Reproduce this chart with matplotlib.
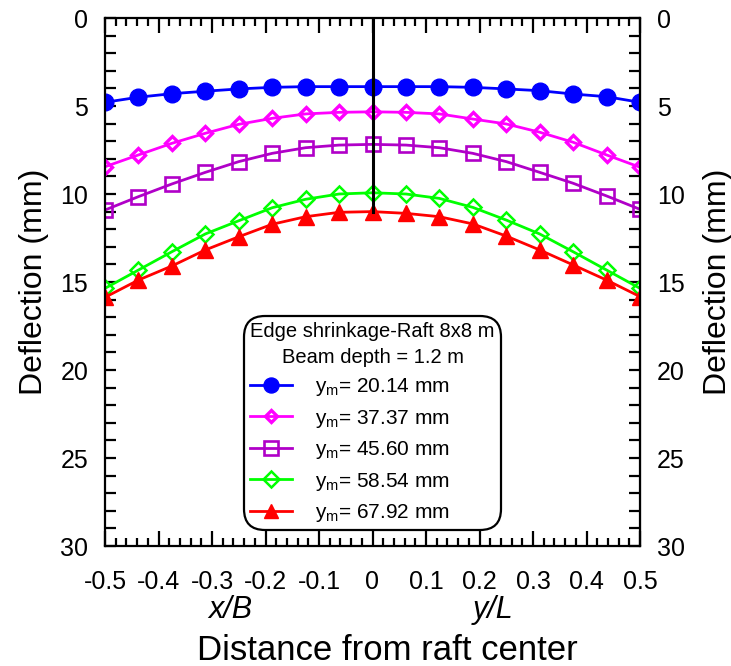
import matplotlib
matplotlib.use("Agg")
import matplotlib.pyplot as plt
from matplotlib.ticker import MultipleLocator

plt.rcParams['font.family'] = ['Liberation Sans', 'DejaVu Sans']
plt.rcParams['mathtext.fontset'] = 'custom'
plt.rcParams['mathtext.rm'] = 'Liberation Sans'
plt.rcParams['mathtext.it'] = 'Liberation Sans:italic'

x_pos = [-0.5, -0.4375, -0.375, -0.3125, -0.25, -0.1875, -0.125, -0.0625, 0.0,
         0.0625, 0.125, 0.1875, 0.25, 0.3125, 0.375, 0.4375, 0.5]

defl_2014 = [4.79, 4.50, 4.30, 4.16, 4.03, 3.94, 3.90, 3.90, 3.90,
             3.90, 3.90, 3.94, 4.03, 4.13, 4.32, 4.47, 4.79]
defl_3737 = [8.45, 7.78, 7.12, 6.55, 6.04, 5.70, 5.45, 5.36, 5.33,
             5.36, 5.45, 5.74, 6.02, 6.49, 7.06, 7.78, 8.48]
defl_4560 = [10.91, 10.15, 9.43, 8.77, 8.16, 7.69, 7.37, 7.22, 7.18,
             7.22, 7.37, 7.69, 8.16, 8.77, 9.39, 10.11, 10.87]
defl_5854 = [15.36, 14.32, 13.28, 12.27, 11.52, 10.78, 10.30, 10.00, 9.93,
             10.00, 10.25, 10.76, 11.48, 12.27, 13.28, 14.32, 15.36]
defl_6792 = [15.87, 14.89, 14.09, 13.18, 12.43, 11.72, 11.29, 11.04, 11.00,
             11.10, 11.29, 11.70, 12.39, 13.18, 14.03, 14.89, 15.83]

labels = [r'$\mathregular{y_m}$= 20.14 mm', r'$\mathregular{y_m}$= 37.37 mm',
          r'$\mathregular{y_m}$= 45.60 mm', r'$\mathregular{y_m}$= 58.54 mm',
          r'$\mathregular{y_m}$= 67.92 mm']
legend_title = 'Edge shrinkage-Raft 8x8 m\nBeam depth = 1.2 m'
x_ticks = [-0.5, -0.4, -0.3, -0.2, -0.1, 0, 0.1, 0.2, 0.3, 0.4, 0.5]
x_ticklabels = ['-0.5', '-0.4', '-0.3', '-0.2', '-0.1', '0', '0.1', '0.2', '0.3', '0.4', '0.5']
y_ticks = [0, 5, 10, 15, 20, 25, 30]

fig = plt.figure(figsize=(7.31, 6.66), dpi=100)
ax = fig.add_axes([105/731, 1-546/666, 535/731, 528/666])

lw = 2.0
ax.plot([0, 0], [0, defl_6792[8]], color='black', lw=2.2, zorder=5)
ax.plot(x_pos, defl_2014, color='#0000ff', lw=lw, marker='o', ms=12, mfc='#0000ff', mec='#0000ff', label=labels[0])
ax.plot(x_pos, defl_3737, color='#ff00ff', lw=lw, marker='D', ms=7, mfc='none', mec='#ff00ff', mew=2.4, label=labels[1])
ax.plot(x_pos, defl_4560, color='#b000c8', lw=lw, marker='s', ms=10.5, mfc='none', mec='#b000c8', mew=1.9, label=labels[2])
ax.plot(x_pos, defl_5854, color='#00ff00', lw=lw, marker='D', ms=8.5, mfc='none', mec='#00ff00', mew=1.8, label=labels[3])
ax.plot(x_pos, defl_6792, color='#ff0000', lw=lw, marker='^', ms=11, mfc='#ff0000', mec='#ff0000', label=labels[4])

ax.set_xlim(-0.5, 0.5)
ax.set_ylim(30, 0)
ax.set_xticks(x_ticks)
ax.set_xticklabels(x_ticklabels)
ax.xaxis.set_minor_locator(MultipleLocator(0.02))
ax.set_yticks(y_ticks)
ax.yaxis.set_minor_locator(MultipleLocator(1))

for s in ax.spines.values():
    s.set_linewidth(1.6)
ax.tick_params(axis='both', which='both', direction='in', top=True, right=True,
               labelright=True, width=1.6, labelsize=18)
ax.tick_params(axis='x', which='major', length=10.8, pad=17)
ax.tick_params(axis='x', which='minor', length=5.8)
ax.tick_params(axis='y', which='major', length=7.9, pad=12)
ax.tick_params(axis='y', which='minor', length=7.9)

ax.set_ylabel('Deflection (mm)', fontsize=23, labelpad=8)
ax2 = ax.secondary_yaxis('right')
ax2.set_yticks([])
ax2.tick_params(length=0, labelright=False)
ax2.set_ylabel('Deflection (mm)', fontsize=23, labelpad=45)

ax.set_xlabel('Distance from raft center', fontsize=25, labelpad=29)
ax.xaxis.label.set_x(0.528)
ax.text(-0.266, -0.121, 'x/B', transform=ax.get_xaxis_transform(), fontsize=22,
        style='italic', ha='center', va='center')
ax.text(0.225, -0.121, 'y/L', transform=ax.get_xaxis_transform(), fontsize=22,
        style='italic', ha='center', va='center')

leg = ax.legend(loc='lower center', bbox_to_anchor=(0.5, 0.03), borderaxespad=0,
                title=legend_title, title_fontsize=14.5, fontsize=15,
                handlelength=2.0, handletextpad=1.1, labelspacing=0.45,
                borderpad=0.3, frameon=True, fancybox=True, framealpha=1,
                edgecolor='black', alignment='left')
leg.get_title().set_multialignment('center')
leg.get_title().set_linespacing(1.45)
leg.get_frame().set_linewidth(1.6)
leg.get_frame().set_boxstyle('round,pad=0.0,rounding_size=1.0')
for h in leg.legend_handles:
    h.set_markersize(h.get_markersize() * 0.9)

fig.savefig('out.png', dpi=100)
